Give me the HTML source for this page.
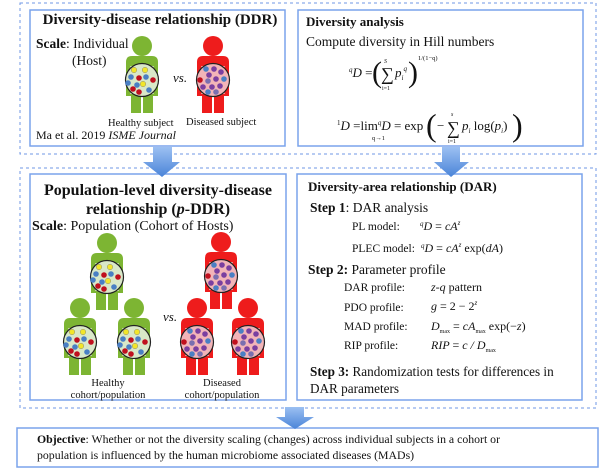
<!DOCTYPE html>
<html><head><meta charset="utf-8"><style>
html,body{margin:0;padding:0;background:#fff;}
svg text{font-family:"Liberation Serif",serif;fill:#111;}
.b{font-weight:bold}
</style></head><body>
<svg width="600" height="470" viewBox="0 0 600 470" xmlns="http://www.w3.org/2000/svg">
<defs>
<linearGradient id="ag" x1="0" y1="0" x2="0" y2="1"><stop offset="0" stop-color="#9cc0f2"/><stop offset="1" stop-color="#4a84d8"/></linearGradient>
<g id="hdots">
<circle cx="-8" cy="-10" r="2.8" fill="#f2e62a" stroke="#777" stroke-width=".4"/>
<circle cx="3" cy="-10" r="2.8" fill="#f2e62a" stroke="#777" stroke-width=".4"/>
<circle cx="-11" cy="-3" r="2.8" fill="#4a7fc4"/>
<circle cx="-3" cy="-2" r="2.8" fill="#c0101e"/>
<circle cx="4" cy="-3" r="2.8" fill="#4a7fc4"/>
<circle cx="11" cy="0" r="2.8" fill="#c0101e"/>
<circle cx="-14" cy="3" r="2.8" fill="#4a7fc4"/>
<circle cx="-5" cy="5" r="2.8" fill="#4a7fc4"/>
<circle cx="1" cy="4" r="2.8" fill="#f2e62a" stroke="#777" stroke-width=".4"/>
<circle cx="-9" cy="9" r="2.8" fill="#c0101e"/>
<circle cx="-3" cy="12" r="2.8" fill="#c0101e"/>
<circle cx="7" cy="10" r="2.8" fill="#4a7fc4"/>
</g>
<g id="ddots">
<circle cx="-7" cy="-11" r="2.8" fill="#4a7fc4"/>
<circle cx="1" cy="-11" r="2.8" fill="#7a3fa0"/>
<circle cx="8" cy="-8" r="2.8" fill="#7a3fa0"/>
<circle cx="-4" cy="-5" r="2.8" fill="#7a3fa0"/>
<circle cx="-13" cy="0" r="2.8" fill="#c0101e"/>
<circle cx="-5" cy="1" r="2.8" fill="#7a6fb0"/>
<circle cx="3" cy="-1" r="2.8" fill="#7a3fa0"/>
<circle cx="11" cy="-1" r="2.8" fill="#4a7fc4"/>
<circle cx="-10" cy="7" r="2.8" fill="#7a3fa0"/>
<circle cx="-1" cy="7" r="2.8" fill="#7a3fa0"/>
<circle cx="7" cy="6" r="2.8" fill="#7a3fa0"/>
<circle cx="-5" cy="12" r="2.8" fill="#4a7fc4"/>
<circle cx="3" cy="12" r="2.8" fill="#7a6fb0"/>
</g>
<g id="gp">
<circle cx="0" cy="-34" r="10" fill="#7db533"/>
<path d="M-16,16 V-18 Q-16,-24 -10,-24 H10 Q16,-24 16,-18 V16 Z" fill="#7db533"/>
<rect x="-11" y="12" width="10" height="21" fill="#7db533"/>
<rect x="1" y="12" width="10" height="21" fill="#7db533"/>
<line x1="0" y1="14" x2="0" y2="33" stroke="#fff" stroke-width="1.5"/>
<line x1="-11" y1="-14" x2="-11" y2="14" stroke="#fff" stroke-width="1"/>
<line x1="11" y1="-14" x2="11" y2="14" stroke="#fff" stroke-width="1"/>
<circle cx="0" cy="0" r="16.5" fill="#d9e8c8" stroke="#222" stroke-width="1.2"/>
<use href="#hdots"/>
</g>
<g id="rp">
<circle cx="0" cy="-34" r="10" fill="#ee1c1c"/>
<path d="M-16,16 V-18 Q-16,-24 -10,-24 H10 Q16,-24 16,-18 V16 Z" fill="#ee1c1c"/>
<rect x="-11" y="12" width="10" height="21" fill="#ee1c1c"/>
<rect x="1" y="12" width="10" height="21" fill="#ee1c1c"/>
<line x1="0" y1="14" x2="0" y2="33" stroke="#fff" stroke-width="1.5"/>
<line x1="-11" y1="-14" x2="-11" y2="14" stroke="#fff" stroke-width="1"/>
<line x1="11" y1="-14" x2="11" y2="14" stroke="#fff" stroke-width="1"/>
<circle cx="0" cy="0" r="16.5" fill="#f2b4b8" stroke="#222" stroke-width="1.2"/>
<use href="#ddots"/>
</g>
</defs>

<rect x="20" y="3" width="576" height="151" fill="none" stroke="#6f97e6" stroke-width="1" stroke-dasharray="3,3"/>
<rect x="20" y="168" width="576" height="240" fill="none" stroke="#6f97e6" stroke-width="1" stroke-dasharray="3,3"/>

<rect x="30" y="10" width="255" height="136" fill="#fff" stroke="#7aa3ec" stroke-width="1.5"/>
<rect x="298" y="10" width="285" height="136" fill="#fff" stroke="#7aa3ec" stroke-width="1.5"/>
<rect x="30" y="174" width="256" height="226" fill="#fff" stroke="#7aa3ec" stroke-width="1.5"/>
<rect x="297" y="174" width="285" height="226" fill="#fff" stroke="#7aa3ec" stroke-width="1.5"/>
<rect x="17" y="428" width="581" height="39" fill="#fff" stroke="#7aa3ec" stroke-width="1.5"/>

<path d="M153,147 H172 V162 H180 L162,177 L143,162 H153 Z" fill="url(#ag)"/>
<path d="M442,147 H460 V162 H469 L451,177 L434,162 H442 Z" fill="url(#ag)"/>
<path d="M285,407 H304 V417 H314 L295,429 L276,417 H285 Z" fill="url(#ag)"/>

<text x="160" y="24" font-size="15" class="b" text-anchor="middle">Diversity-disease relationship (DDR)</text>
<text x="36" y="48" font-size="13.5"><tspan class="b">Scale</tspan>: Individual</text>
<text x="72" y="65" font-size="13.5">(Host)</text>
<use href="#gp" x="142" y="80"/>
<use href="#rp" x="213" y="80"/>
<text x="173" y="82" font-size="13" font-style="italic">vs.</text>
<text x="108" y="126" font-size="10.5">Healthy subject</text>
<text x="186" y="125" font-size="10.5">Diseased subject</text>
<text x="36" y="139" font-size="12">Ma et al. 2019 <tspan font-style="italic">ISME Journal</tspan></text>

<text x="306" y="26" font-size="13" class="b">Diversity analysis</text>
<text x="306" y="46" font-size="13.5">Compute diversity in Hill numbers</text>
<g font-size="13" font-style="italic">
<text x="349" y="77"><tspan font-size="7" dy="-5">q</tspan><tspan dy="5">D</tspan> <tspan font-style="normal">=</tspan></text>
<text x="372" y="82" font-size="30" font-style="normal" fill="#222">(</text>
<text x="381" y="80" font-size="18" font-style="normal">∑</text>
<text x="384" y="63" font-size="6">S</text>
<text x="382" y="90" font-size="6" font-style="normal">i=1</text>
<text x="395" y="77">p<tspan font-size="7" dy="3">i</tspan><tspan font-size="7" dy="-9">q</tspan></text>
<text x="408" y="82" font-size="30" font-style="normal">)</text>
<text x="418" y="60" font-size="6.5" font-style="normal">1/(1−q)</text>
<text x="337" y="130"><tspan font-size="7" dy="-5" font-style="normal">1</tspan><tspan dy="5">D</tspan> <tspan font-style="normal">=lim</tspan><tspan font-size="7" dy="-5">q</tspan><tspan dy="5">D</tspan> <tspan font-style="normal">= exp</tspan></text>
<text x="372" y="140" font-size="6.5" font-style="normal">q→1</text>
<text x="426" y="136" font-size="32" font-style="normal">(</text>
<text x="437" y="130" font-size="13" font-style="normal">−</text>
<text x="447" y="134" font-size="18" font-style="normal">∑</text>
<text x="451" y="116" font-size="6">s</text>
<text x="448" y="143" font-size="6" font-style="normal">i=1</text>
<text x="462" y="130">p<tspan font-size="7" dy="3">i</tspan><tspan dy="-3" font-style="normal"> log(</tspan>p<tspan font-size="7" dy="3">i</tspan><tspan dy="-3" font-style="normal">)</tspan></text>
<text x="512" y="136" font-size="32" font-style="normal">)</text>
</g>

<text x="158" y="195" font-size="16" class="b" text-anchor="middle">Population-level diversity-disease</text>
<text x="158" y="214" font-size="16" class="b" text-anchor="middle">relationship (<tspan font-style="italic">p</tspan>-DDR)</text>
<text x="32" y="230" font-size="14"><tspan class="b">Scale</tspan>: Population (Cohort of Hosts)</text>
<use href="#gp" x="107" y="277"/>
<use href="#gp" x="80" y="342"/>
<use href="#gp" x="134" y="342"/>
<use href="#rp" x="221" y="276"/>
<use href="#rp" x="197" y="342"/>
<use href="#rp" x="248" y="342"/>
<text x="163" y="321" font-size="13" font-style="italic">vs.</text>
<text x="108" y="386" font-size="10.5" text-anchor="middle">Healthy</text>
<text x="108" y="398" font-size="10.5" text-anchor="middle">cohort/population</text>
<text x="222" y="386" font-size="10.5" text-anchor="middle">Diseased</text>
<text x="222" y="398" font-size="10.5" text-anchor="middle">cohort/population</text>

<text x="308" y="191" font-size="13" class="b">Diversity-area relationship (DAR)</text>
<text x="310" y="212" font-size="13.5"><tspan class="b">Step 1</tspan>: DAR analysis</text>
<text x="352" y="230" font-size="11.5">PL model:</text>
<text x="420" y="230" font-size="12" font-style="italic"><tspan font-size="7" dy="-4">q</tspan><tspan dy="4">D</tspan> <tspan font-style="normal">=</tspan> cA<tspan font-size="7" dy="-5">z</tspan></text>
<text x="352" y="252" font-size="11.5">PLEC model:</text>
<text x="421" y="252" font-size="12" font-style="italic"><tspan font-size="7" dy="-4">q</tspan><tspan dy="4">D</tspan> <tspan font-style="normal">=</tspan> cA<tspan font-size="7" dy="-5">z</tspan><tspan dy="5" font-style="normal"> exp(</tspan>dA<tspan font-style="normal">)</tspan></text>
<text x="308" y="274" font-size="13.5"><tspan class="b">Step 2:</tspan> Parameter profile</text>
<text x="344" y="291" font-size="11.5">DAR profile:</text>
<text x="431" y="291" font-size="12"><tspan font-style="italic">z-q</tspan> pattern</text>
<text x="344" y="311" font-size="11.5">PDO profile:</text>
<text x="431" y="310" font-size="12"><tspan font-style="italic">g</tspan> = 2 − 2<tspan font-size="7" dy="-5" font-style="italic">z</tspan></text>
<text x="344" y="330" font-size="11.5">MAD profile:</text>
<text x="431" y="330" font-size="12" font-style="italic">D<tspan font-size="6" dy="3" font-style="normal">max</tspan><tspan dy="-3" font-style="normal"> =</tspan> cA<tspan font-size="6" dy="3" font-style="normal">max</tspan><tspan dy="-3" font-style="normal"> exp(−</tspan>z<tspan font-style="normal">)</tspan></text>
<text x="344" y="349" font-size="11.5">RIP profile:</text>
<text x="431" y="349" font-size="12" font-style="italic">RIP <tspan font-style="normal">=</tspan> c / D<tspan font-size="6" dy="3" font-style="normal">max</tspan></text>
<text x="310" y="376" font-size="13.2"><tspan class="b">Step 3:</tspan> Randomization tests for differences in</text>
<text x="310" y="393" font-size="13.2">DAR parameters</text>

<text x="37" y="443" font-size="11.8"><tspan class="b">Objective</tspan>: Whether or not the diversity scaling (changes) across individual subjects in a cohort or</text>
<text x="37" y="459" font-size="11.8">population is influenced by the human microbiome associated diseases (MADs)</text>
</svg>
</body></html>
